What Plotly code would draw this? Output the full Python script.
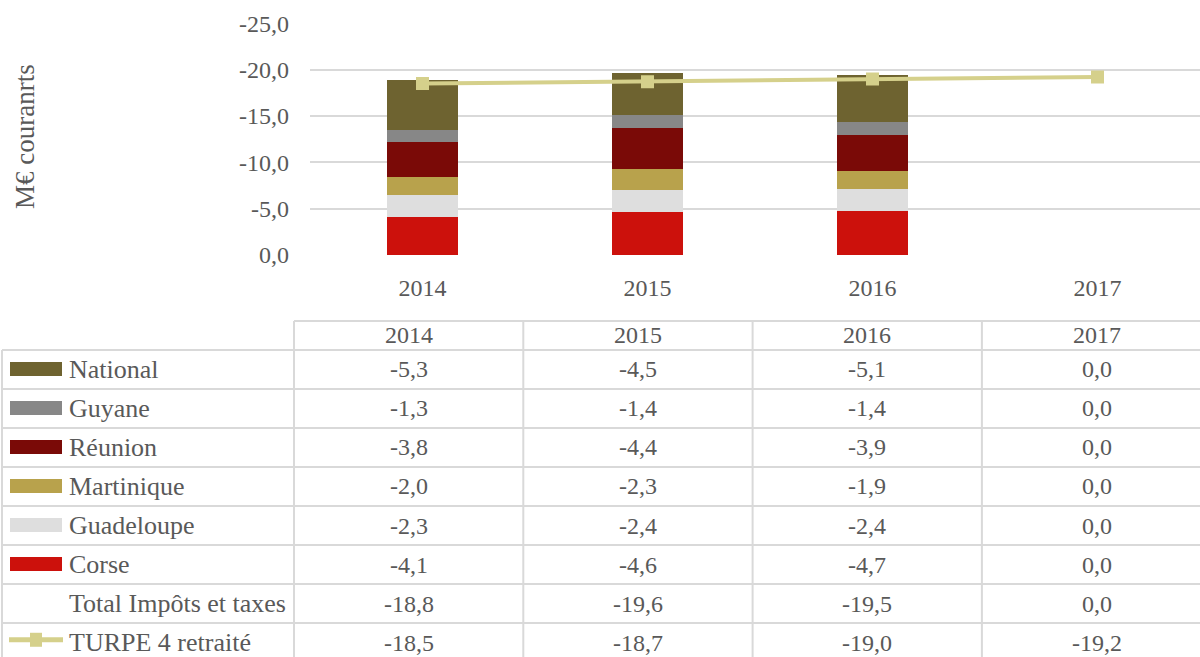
import plotly.graph_objects as go

# ---- data -------------------------------------------------------------
years = ["2014", "2015", "2016", "2017"]

# stacked components, drawn bottom to top
series_names = ["Corse", "Guadeloupe", "Martinique", "Réunion", "Guyane", "National"]
corse = [-4.1, -4.6, -4.7, 0.0]
guadeloupe = [-2.3, -2.4, -2.4, 0.0]
martinique = [-2.0, -2.3, -1.9, 0.0]
reunion = [-3.8, -4.4, -3.9, 0.0]
guyane = [-1.3, -1.4, -1.4, 0.0]
national = [-5.3, -4.5, -5.1, 0.0]

total_impots = [-18.8, -19.6, -19.5, 0.0]
turpe4 = [-18.5, -18.7, -19.0, -19.2]

y_ticks = [0, -5, -10, -15, -20, -25]

# ---- styling ----------------------------------------------------------
colors = {
    "Corse": "#cc110c",
    "Guadeloupe": "#dedede",
    "Martinique": "#b8a24c",
    "Réunion": "#7a0a07",
    "Guyane": "#878787",
    "National": "#6e6330",
}
line_color = "#d5d08b"
text_color = "#595959"
grid_color = "#d9d9d9"
FONT = "Liberation Serif"
FS = 24          # numbers
FS_TXT = 26      # row labels
FS_TITLE = 27    # axis title

W, H = 1200, 657


def fr(v):
    """French-style number with one decimal and a plain hyphen minus."""
    s = f"{abs(v):.1f}".replace(".", ",")
    return ("-" + s) if v < 0 else s


values = {
    "Corse": corse,
    "Guadeloupe": guadeloupe,
    "Martinique": martinique,
    "Réunion": reunion,
    "Guyane": guyane,
    "National": national,
}

fig = go.Figure()

for name in series_names:
    fig.add_trace(go.Bar(
        x=years, y=values[name], name=name,
        marker=dict(color=colors[name], line=dict(width=0)),
        width=0.316, showlegend=False,
    ))

fig.add_trace(go.Scatter(
    x=years, y=turpe4, name="TURPE 4 retraité", mode="lines+markers",
    line=dict(color=line_color, width=4),
    marker=dict(symbol="square", size=13, color=line_color),
    showlegend=False,
))

# ---- chart axes (pixel geometry of the plot box) -----------------------
plot_left, plot_right = 310, 1200
plot_top, plot_bottom = 23.3, 255
cat_w = 225.0
x_lo = -0.5
x_hi = x_lo + (plot_right - plot_left) / cat_w

# ---- table geometry (hidden helper axes x2/y2) -------------------------
col_w = 229.3
tbl_first_col_left = 294          # left border of the first year column
x2_lo = -0.5 - tbl_first_col_left / col_w
x2_hi = x2_lo + W / col_w
row_h = 39.0
body_top = 350.0                  # top of the first body row
hdr_top = 321.0
y2_top = -(body_top - hdr_top + 2) / row_h
y2_bottom = (H - body_top) / row_h


def px_x2(px):
    return x2_lo + px / col_w


shapes = []
annotations = []
line_style = dict(color=grid_color, width=2)

# header row borders (no border over the label column)
hdr_y = -(body_top - hdr_top) / row_h
shapes.append(dict(type="line", xref="x2", yref="y2", x0=-0.5, x1=x2_hi + 1,
                   y0=hdr_y, y1=hdr_y, line=line_style, layer="below"))
# horizontal row borders
for r in range(8):
    shapes.append(dict(type="line", xref="x2", yref="y2", x0=px_x2(2), x1=x2_hi + 1,
                       y0=r, y1=r, line=line_style, layer="below"))
# vertical borders
shapes.append(dict(type="line", xref="x2", yref="y2", x0=px_x2(2), x1=px_x2(2),
                   y0=0, y1=y2_bottom + 1, line=line_style, layer="below"))
for c in range(len(years)):
    xb = c - 0.5
    shapes.append(dict(type="line", xref="x2", yref="y2", x0=xb, x1=xb,
                       y0=hdr_y, y1=y2_bottom + 1, line=line_style, layer="below"))

# header labels
for c, yr in enumerate(years):
    annotations.append(dict(x=c, y=hdr_y / 2, xref="x2", yref="y2", text=yr,
                            showarrow=False, font=dict(family=FONT, size=FS, color=text_color)))

# table rows, top to bottom
table_rows = [("National", national), ("Guyane", guyane), ("Réunion", reunion),
              ("Martinique", martinique), ("Guadeloupe", guadeloupe), ("Corse", corse),
              ("Total Impôts et taxes", total_impots), ("TURPE 4 retraité", turpe4)]

key_half = 7 / row_h
for r, (label, vals) in enumerate(table_rows):
    yc = r + 0.5
    annotations.append(dict(x=px_x2(67), y=yc, xref="x2", yref="y2", text=label,
                            xanchor="left", yanchor="middle", showarrow=False,
                            font=dict(family=FONT, size=FS_TXT, color=text_color)))
    for c, v in enumerate(vals):
        annotations.append(dict(x=c, y=yc, xref="x2", yref="y2", text=fr(v),
                                showarrow=False,
                                font=dict(family=FONT, size=FS, color=text_color)))
    if label in colors:
        shapes.append(dict(type="rect", xref="x2", yref="y2",
                           x0=px_x2(10), x1=px_x2(62), y0=yc - key_half - 0.01, y1=yc + key_half - 0.01,
                           fillcolor=colors[label], line=dict(width=0)))
    elif label.startswith("TURPE"):
        shapes.append(dict(type="line", xref="x2", yref="y2",
                           x0=px_x2(9), x1=px_x2(63), y0=yc - 0.07, y1=yc - 0.07,
                           line=dict(color=line_color, width=5)))
        shapes.append(dict(type="rect", xref="x2", yref="y2",
                           x0=px_x2(30), x1=px_x2(42), y0=yc - 0.07 - 7 / row_h, y1=yc - 0.07 + 7 / row_h,
                           fillcolor=line_color, line=dict(width=0)))

# y axis title
annotations.append(dict(x=25 / W, y=1 - 137 / H, xref="paper", yref="paper",
                        xanchor="center", yanchor="middle",
                        text="M€ couranrts", textangle=-90, showarrow=False,
                        font=dict(family=FONT, size=FS_TITLE, color=text_color)))

fig.update_layout(
    template="none",
    width=W, height=H,
    margin=dict(l=0, r=0, t=0, b=0, pad=0, autoexpand=False),
    paper_bgcolor="white", plot_bgcolor="white",
    barmode="relative", bargap=0,
    font=dict(family=FONT, size=FS, color=text_color),
    xaxis=dict(
        domain=[plot_left / W, plot_right / W], anchor="y", automargin=False,
        type="category", categoryorder="array", categoryarray=years,
        range=[x_lo, x_hi], showgrid=False, showline=False, zeroline=False,
        ticks="", ticklabelstandoff=16,
        tickfont=dict(family=FONT, size=FS, color=text_color),
    ),
    yaxis=dict(
        domain=[1 - plot_bottom / H, 1 - plot_top / H], anchor="x", automargin=False,
        range=[0, -25], tickvals=y_ticks, ticktext=[fr(v) for v in y_ticks],
        showgrid=True, gridcolor=grid_color, gridwidth=2,
        zeroline=False, showline=False, ticks="", ticklabelstandoff=20,
        tickfont=dict(family=FONT, size=FS, color=text_color),
    ),
    xaxis2=dict(domain=[0, 1], anchor="y2", range=[x2_lo, x2_hi], visible=False,
                automargin=False),
    yaxis2=dict(domain=[0, 1 - (hdr_top - 2) / H], anchor="x2", automargin=False,
                range=[y2_bottom, y2_top], visible=False),
    shapes=shapes,
    annotations=annotations,
)

fig.write_html("out.html")
